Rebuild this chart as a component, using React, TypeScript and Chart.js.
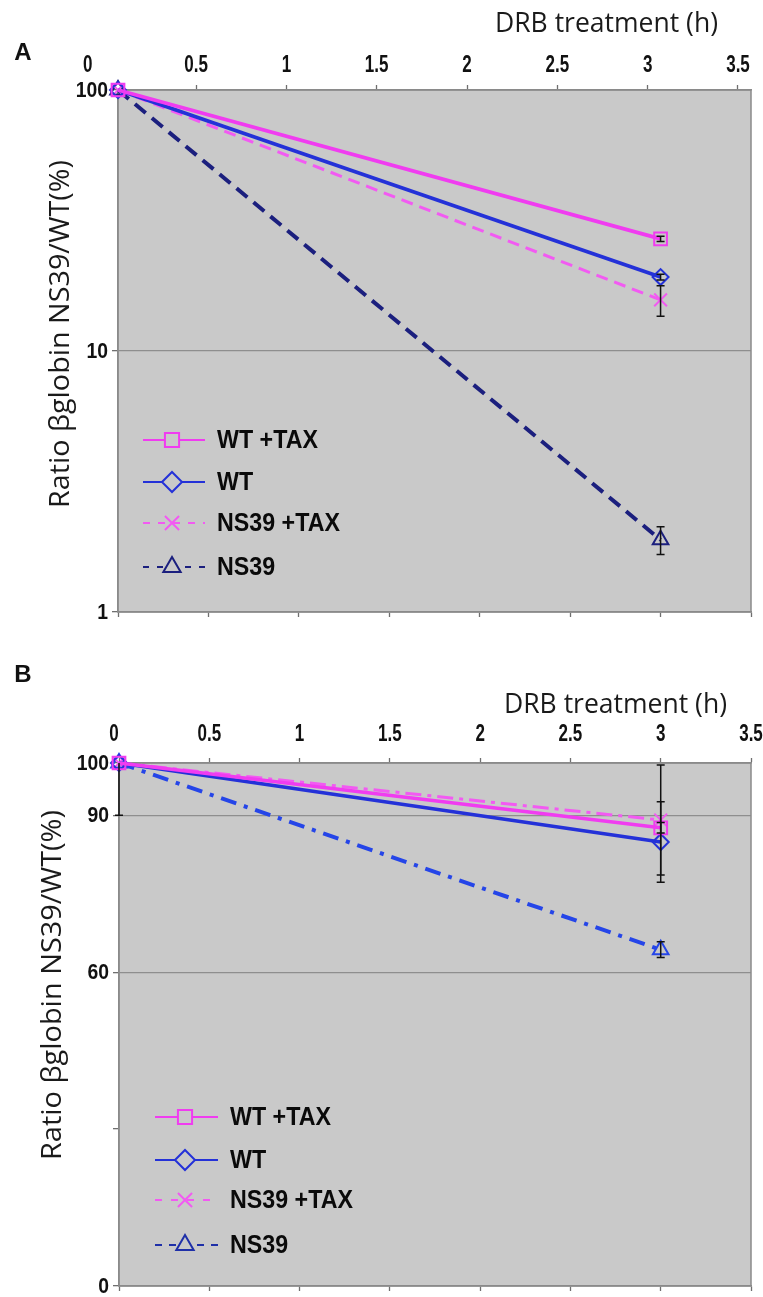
import React, { useEffect, useRef } from 'react';
import { Chart, registerables } from 'chart.js';
import { drawPoint } from 'chart.js/helpers';

Chart.register(...registerables);

// ---------- data ----------
const timeH = [0, 3];
const xTickValues = [0, 0.5, 1, 1.5, 2, 2.5, 3, 3.5];
const xTickLabels = ['0', '0.5', '1', '1.5', '2', '2.5', '3', '3.5'];
const seriesNames = ['WT +TAX', 'WT', 'NS39 +TAX', 'NS39'];
const xTitle = 'DRB treatment (h)';
const yTitle = 'Ratio βglobin NS39/WT(%)';

// Panel A (log scale)
const wtTaxA = [100, 26.9];
const wtTaxErrA = [0, 0.6];
const wtA = [100, 19.2];
const wtErrA = [0, 0.5];
const ns39TaxA = [100, 15.7];
const ns39TaxErrA = [0, 2.1];
const ns39A = [100, 1.89];
const ns39ErrA = [0, 0.23];
const yTicksA = [1, 10, 100];
const yLabelsA = ['1', '10', '100'];
const yGridA = [10];

// Panel B (linear scale)
const wtTaxB = [100, 87.6];
const wtTaxErrB = [0, 1.0];
const wtB = [100, 84.9];
const wtErrB = [0, 7.7];
const ns39TaxB = [100, 89.1];
const ns39TaxErrB = [10, 10.5];
const ns39B = [100, 64.3];
const ns39ErrB = [0, 1.5];
const yTicksB = [0, 30, 60, 90, 100];
const yLabelsB = ['0', '', '60', '90', '100'];
const yGridB = [60, 90];

// ---------- styles ----------
const PLOT_BG = '#c9c9c9';
const BORDER = '#8a8a8a';
const GRID = '#8e8e8e';
const PINK = '#f03cf0';
const PINK2 = '#f25af2';
const BLUE = '#2431d8';
const NAVY = '#1b1f7e';
const BLUE2 = '#2545e8';
const TEXT = '#111111';

type Series = {
  label: string; data: number[]; err: number[]; color: string; legendColor: string;
  width: number; dash: number[]; legendDash: number[]; style: string; radius: number;
};

type PanelCfg = {
  W: number; H: number; top: number;
  area: { left: number; top: number; right: number; bottom: number };
  yType: 'logarithmic' | 'linear'; yMin: number; yMax: number;
  yTicks: number[]; yLabels: string[]; yGrid: number[]; yLabelRight: number;
  x2Min: number; x2Max: number; zeroShift: number; xLabelY: number;
  letter: string; letterPos: [number, number];
  xTitleRight: number; xTitleY: number; xTitleW: number;
  yTitleX: number; yTitleY: number; yTitleLen: number;
  legend: { x0: number; x1: number; mx: number; tx: number; ys: number[] };
  series: Series[];
};

const panelA: PanelCfg = {
  W: 763, H: 640, top: 0,
  area: { left: 118, top: 90, right: 751, bottom: 612 },
  yType: 'logarithmic', yMin: 1, yMax: 100,
  yTicks: yTicksA, yLabels: yLabelsA, yGrid: yGridA, yLabelRight: 108,
  x2Min: 0.068, x2Max: 3.572, zeroShift: -18, xLabelY: 66,
  letter: 'A', letterPos: [23, 53],
  xTitleRight: 718, xTitleY: 24, xTitleW: 223,
  yTitleX: 61, yTitleY: 334, yTitleLen: 348,
  legend: { x0: 143, x1: 205, mx: 172, tx: 217, ys: [440, 482, 523, 567] },
  series: [
    { label: seriesNames[0], data: wtTaxA, err: wtTaxErrA, color: PINK, legendColor: PINK, width: 3.8, dash: [], legendDash: [], style: 'rect', radius: 9 },
    { label: seriesNames[1], data: wtA, err: wtErrA, color: BLUE, legendColor: BLUE, width: 3.8, dash: [], legendDash: [], style: 'rectRot', radius: 8 },
    { label: seriesNames[2], data: ns39TaxA, err: ns39TaxErrA, color: PINK2, legendColor: PINK2, width: 3, dash: [12, 7], legendDash: [7, 8], style: 'crossRot', radius: 9 },
    { label: seriesNames[3], data: ns39A, err: ns39ErrA, color: NAVY, legendColor: NAVY, width: 4, dash: [14, 8], legendDash: [6, 8], style: 'triangle', radius: 9 },
  ],
};

const panelB: PanelCfg = {
  W: 763, H: 657, top: 640,
  area: { left: 119, top: 123, right: 751, bottom: 647 },
  yType: 'linear', yMin: 0, yMax: 100,
  yTicks: yTicksB, yLabels: yLabelsB, yGrid: yGridB, yLabelRight: 109,
  x2Min: 0, x2Max: 3.5, zeroShift: -5, xLabelY: 95,
  letter: 'B', letterPos: [23, 35],
  xTitleRight: 727, xTitleY: 65, xTitleW: 223,
  yTitleX: 53, yTitleY: 345, yTitleLen: 350,
  legend: { x0: 155, x1: 218, mx: 185, tx: 230, ys: [477, 520, 560, 605] },
  series: [
    { label: seriesNames[0], data: wtTaxB, err: wtTaxErrB, color: PINK, legendColor: PINK, width: 3.5, dash: [], legendDash: [], style: 'rect', radius: 9 },
    { label: seriesNames[1], data: wtB, err: wtErrB, color: BLUE, legendColor: BLUE, width: 3.5, dash: [], legendDash: [], style: 'rectRot', radius: 8 },
    { label: seriesNames[2], data: ns39TaxB, err: ns39TaxErrB, color: PINK2, legendColor: PINK2, width: 3, dash: [16, 6, 4, 6], legendDash: [7, 9], style: 'crossRot', radius: 9 },
    { label: seriesNames[3], data: ns39B, err: ns39ErrB, color: BLUE2, legendColor: '#1e2fa8', width: 4, dash: [16, 8, 4, 8], legendDash: [7, 7], style: 'triangle', radius: 9 },
  ],
};

// ---------- helpers ----------
function drawText(
  ctx: CanvasRenderingContext2D, text: string, x: number, y: number, font: string,
  scaleX: number, align: 'left' | 'right' | 'center', color = TEXT,
) {
  ctx.save();
  ctx.font = font;
  ctx.fillStyle = color;
  ctx.textBaseline = 'middle';
  ctx.textAlign = 'left';
  const w = ctx.measureText(text).width * scaleX;
  const left = align === 'left' ? x : align === 'right' ? x - w : x - w / 2;
  ctx.translate(left, y);
  ctx.scale(scaleX, 1);
  ctx.fillText(text, 0, 0);
  ctx.restore();
}

function drawFitText(
  ctx: CanvasRenderingContext2D, text: string, cx: number, cy: number, font: string,
  targetW: number, rotate: boolean, color = TEXT,
) {
  ctx.save();
  ctx.font = font;
  ctx.fillStyle = color;
  ctx.textBaseline = 'middle';
  ctx.textAlign = 'center';
  const w = ctx.measureText(text).width;
  const s = targetW / w;
  ctx.translate(cx, cy);
  if (rotate) ctx.rotate(-Math.PI / 2);
  ctx.scale(s, 1);
  ctx.fillText(text, 0, 0);
  ctx.restore();
}

function makeDecor(p: PanelCfg) {
  return {
    id: 'decor' + p.letter,
    beforeDraw(chart: any) {
      const { ctx, chartArea: a } = chart;
      ctx.save();
      ctx.fillStyle = PLOT_BG;
      ctx.fillRect(a.left, a.top, a.right - a.left, a.bottom - a.top);
      ctx.restore();
    },
    beforeDatasetsDraw(chart: any) {
      const { ctx, chartArea: a } = chart;
      ctx.save();
      ctx.strokeStyle = BORDER;
      ctx.lineWidth = 1.5;
      ctx.strokeRect(a.left, a.top, a.right - a.left, a.bottom - a.top);
      ctx.restore();
    },
    afterDatasetsDraw(chart: any) {
      const { ctx, chartArea: a } = chart;
      const ys = chart.scales.y;
      ctx.save();
      ctx.beginPath();
      ctx.rect(a.left - 10, a.top, a.right - a.left + 20, a.bottom - a.top);
      ctx.clip();
      ctx.strokeStyle = '#111';
      ctx.lineWidth = 1.5;
      ctx.setLineDash([]);
      chart.data.datasets.forEach((ds: any, di: number) => {
        const meta = chart.getDatasetMeta(di);
        const errs: number[] = ds.errors || [];
        meta.data.forEach((pt: any, i: number) => {
          const e = errs[i];
          if (!e) return;
          const v = ds.data[i].y;
          const y1 = ys.getPixelForValue(v + e);
          const y2 = ys.getPixelForValue(Math.max(v - e, p.yType === 'logarithmic' ? 0.01 : -1000));
          const x = pt.x;
          ctx.beginPath();
          ctx.moveTo(x, y1); ctx.lineTo(x, y2);
          ctx.moveTo(x - 4, y1); ctx.lineTo(x + 4, y1);
          ctx.moveTo(x - 4, y2); ctx.lineTo(x + 4, y2);
          ctx.stroke();
        });
      });
      ctx.restore();
    },
    afterDraw(chart: any) {
      const { ctx } = chart;
      const x2 = chart.scales.x2;
      const ys = chart.scales.y;
      // x tick labels (top)
      xTickValues.forEach((v, i) => {
        const px = x2.getPixelForValue(v) + (v === 0 ? p.zeroShift : 0);
        drawText(ctx, xTickLabels[i], px, p.xLabelY, 'bold 23px "Liberation Sans", Arial, sans-serif', 0.74, 'center');
      });
      // y tick labels
      p.yTicks.forEach((v, i) => {
        const lbl = p.yLabels[i];
        if (!lbl) return;
        drawText(ctx, lbl, p.yLabelRight, ys.getPixelForValue(v) + 1, 'bold 22px "Liberation Sans", Arial, sans-serif', 0.88, 'right');
      });
      // panel letter
      drawText(ctx, p.letter, p.letterPos[0], p.letterPos[1], 'bold 24px "Liberation Sans", Arial, sans-serif', 1, 'center');
      // axis titles
      drawFitText(ctx, xTitle, p.xTitleRight - p.xTitleW / 2, p.xTitleY, '27px "Open Sans", "Liberation Sans", sans-serif', p.xTitleW, false, '#1a1a1a');
      drawFitText(ctx, yTitle, p.yTitleX, p.yTitleY, '27px "Open Sans", "Liberation Sans", sans-serif', p.yTitleLen, true, '#1a1a1a');
      // legend
      const L = p.legend;
      p.series.forEach((s, i) => {
        const y = L.ys[i];
        ctx.save();
        ctx.strokeStyle = s.legendColor;
        ctx.lineWidth = 2;
        ctx.setLineDash(s.legendDash);
        ctx.beginPath();
        ctx.moveTo(L.x0, y);
        ctx.lineTo(L.x1, y);
        ctx.stroke();
        ctx.setLineDash([]);
        ctx.strokeStyle = s.legendColor;
        ctx.fillStyle = PLOT_BG;
        ctx.lineWidth = 2;
        drawPoint(ctx, { pointStyle: s.style as any, radius: 10, rotation: 0, borderWidth: 2 } as any, L.mx, y);
        ctx.restore();
        drawText(ctx, s.label, L.tx, y + 1, 'bold 25px "Liberation Sans", Arial, sans-serif', 0.93, 'left', '#0a0a0a');
      });
    },
  };
}

function makeConfig(p: PanelCfg): any {
  const datasets = p.series.map((s) => ({
    label: s.label,
    data: timeH.map((t, i) => ({ x: t, y: s.data[i] })),
    errors: s.err,
    borderColor: s.color,
    backgroundColor: s.color,
    borderWidth: s.width,
    borderDash: s.dash,
    pointStyle: s.style,
    pointRadius: s.radius,
    pointHoverRadius: s.radius,
    pointBorderColor: s.color,
    pointBackgroundColor: 'rgba(0,0,0,0)',
    pointBorderWidth: 2,
    tension: 0,
    fill: false,
    clip: false,
    xAxisID: 'x',
    yAxisID: 'y',
  }));
  const tickGrid = { drawOnChartArea: false, drawTicks: true, tickLength: 5, tickColor: '#6f6f6f', tickWidth: 1.3 };
  return {
    type: 'line',
    data: { datasets },
    options: {
      responsive: false,
      animation: false,
      devicePixelRatio: 1,
      events: [],
      layout: { padding: { left: 0, top: 0, bottom: 0, right: p.W - p.area.right } },
      plugins: { legend: { display: false }, tooltip: { enabled: false }, title: { display: false } },
      scales: {
        x: {
          type: 'linear', position: 'bottom', min: 0, max: 3.5,
          afterBuildTicks: (s: any) => { s.ticks = xTickValues.map((v) => ({ value: v })); },
          ticks: { display: false },
          grid: tickGrid,
          border: { display: true, color: BORDER, width: 1.5 },
          afterFit: (s: any) => { s.height = p.H - p.area.bottom; },
        },
        x2: {
          type: 'linear', position: 'top', min: p.x2Min, max: p.x2Max,
          afterBuildTicks: (s: any) => {
            s.ticks = xTickValues.filter((v) => v >= p.x2Min - 1e-9 && v <= p.x2Max + 1e-9).map((v) => ({ value: v }));
          },
          ticks: { display: false },
          grid: tickGrid,
          border: { display: true, color: BORDER, width: 1.5 },
          afterFit: (s: any) => { s.height = p.area.top; },
        },
        y: {
          type: p.yType, position: 'left', min: p.yMin, max: p.yMax,
          afterBuildTicks: (s: any) => { s.ticks = p.yTicks.map((v) => ({ value: v })); },
          ticks: { display: false },
          grid: {
            drawOnChartArea: true, drawTicks: true, tickLength: 6, tickColor: '#6f6f6f', tickWidth: 1.3,
            lineWidth: 1.3,
            color: (c: any) => (c.tick && p.yGrid.includes(c.tick.value) ? GRID : 'rgba(0,0,0,0)'),
          },
          border: { display: true, color: BORDER, width: 1.5 },
          afterFit: (s: any) => { s.width = p.area.left; },
        },
      },
    },
    plugins: [makeDecor(p)],
  };
}

function Panel({ p }: { p: PanelCfg }) {
  const ref = useRef<HTMLCanvasElement>(null);
  useEffect(() => {
    if (!ref.current) return;
    const chart = new Chart(ref.current, makeConfig(p));
    let alive = true;
    if ((document as any).fonts && (document as any).fonts.ready) {
      (document as any).fonts.ready.then(() => { if (alive) chart.update(); });
    }
    return () => { alive = false; chart.destroy(); };
  }, [p]);
  return (
    <canvas
      ref={ref}
      width={p.W}
      height={p.H}
      style={{ position: 'absolute', left: 0, top: p.top, width: p.W, height: p.H, display: 'block' }}
    />
  );
}

export default function App() {
  return (
    <div style={{ position: 'absolute', left: 0, top: 0, width: 763, height: 1297, background: '#ffffff', overflow: 'hidden' }}>
      <Panel p={panelA} />
      <Panel p={panelB} />
    </div>
  );
}
